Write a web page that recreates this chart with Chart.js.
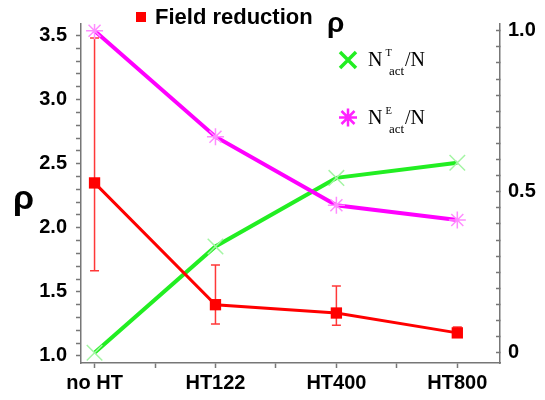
<!DOCTYPE html>
<html lang="en">
<head>
  <meta charset="UTF-8" />
  <title>Field reduction ρ</title>
  <script src="https://cdn.jsdelivr.net/npm/chart.js"></script>
  <style>
    body { margin: 0; background: #fff; }
    #wrap { position: relative; width: 545px; height: 400px; }
  </style>
</head>
<body>
<div id="wrap"><canvas id="c" width="545" height="400"></canvas></div>
<script>
  // data
  const categories = ['no HT', 'HT122', 'HT400', 'HT800'];
  const fieldReduction = [2.35, 1.40, 1.335, 1.18];
  const errLow = [1.665, 1.25, 1.24, 1.15];
  const errHigh = [3.48, 1.71, 1.545, 1.225];
  const nTact = [0.0, 0.33, 0.543, 0.59];
  const nEact = [1.0, 0.671, 0.458, 0.412];
  const leftLabels = [1.0, 1.5, 2.0, 2.5, 3.0, 3.5];
  const rightLabels = [0, 0.5, 1.0];

  const AXIS = '#777';
  const tickFont = { family: 'Liberation Sans', size: 20, weight: 'bold' };

  function points(vals) {
    return vals.map((v, i) => ({ x: i, y: v }));
  }
  function stepTicks(from, to, step) {
    const out = [];
    for (let v = from; v <= to + 1e-9; v += step) out.push({ value: Math.round(v * 1000) / 1000 });
    return out;
  }
  function near(list, v) {
    return list.some(l => Math.abs(l - v) < 1e-6);
  }

  const errorBars = {
    id: 'errorBars',
    beforeDatasetsDraw(chart) {
      const { ctx, scales: { x, y } } = chart;
      ctx.save();
      ctx.strokeStyle = '#ff3838';
      ctx.lineWidth = 1.5;
      errLow.forEach((lo, i) => {
        const px = x.getPixelForValue(i);
        const top = y.getPixelForValue(errHigh[i]);
        const bot = y.getPixelForValue(lo);
        ctx.beginPath();
        ctx.moveTo(px, top); ctx.lineTo(px, bot);
        ctx.moveTo(px - 4.5, top); ctx.lineTo(px + 4.5, top);
        ctx.moveTo(px - 4.5, bot); ctx.lineTo(px + 4.5, bot);
        ctx.stroke();
      });
      ctx.restore();
    }
  };

  const annotations = {
    id: 'annotations',
    afterDraw(chart) {
      const ctx = chart.ctx;
      ctx.save();
      ctx.fillStyle = '#000';
      ctx.textBaseline = 'alphabetic';

      // axis title
      ctx.font = 'bold 34px "Liberation Sans"';
      ctx.fillText('ρ', 13, 209);

      // legend: field reduction
      ctx.fillStyle = '#ff0000';
      ctx.fillRect(136, 12, 10, 10);
      ctx.fillStyle = '#000';
      ctx.font = 'bold 22px "Liberation Sans"';
      ctx.fillText('Field reduction', 155, 23.5);
      ctx.font = 'bold 28px "Liberation Sans"';
      ctx.fillText('ρ', 327, 32);

      // legend: N^T_act / N
      ctx.strokeStyle = '#22ee22';
      ctx.lineWidth = 3.5;
      ctx.beginPath();
      ctx.moveTo(340, 52); ctx.lineTo(356, 68);
      ctx.moveTo(356, 52); ctx.lineTo(340, 68);
      ctx.stroke();
      drawRatio(ctx, 'T', 66);

      // legend: N^E_act / N
      ctx.strokeStyle = '#ff22ff';
      ctx.lineWidth = 2.5;
      ctx.beginPath();
      ctx.moveTo(348, 108.5); ctx.lineTo(348, 126.5);
      ctx.moveTo(339, 117.5); ctx.lineTo(357, 117.5);
      ctx.moveTo(341.5, 111); ctx.lineTo(354.5, 124);
      ctx.moveTo(354.5, 111); ctx.lineTo(341.5, 124);
      ctx.stroke();
      drawRatio(ctx, 'E', 124);

      ctx.restore();
    }
  };

  function drawRatio(ctx, sup, base) {
    ctx.fillStyle = '#000';
    ctx.font = '20px "Liberation Serif"';
    ctx.fillText('N', 368, base);
    ctx.fillText('/N', 405, base);
    ctx.font = '10.5px "Liberation Serif"';
    ctx.fillText(sup, 385.5, base - 10.5);
    ctx.font = '13px "Liberation Serif"';
    ctx.fillText('act', 389, base + 8.5);
  }

  new Chart(document.getElementById('c').getContext('2d'), {
    type: 'line',
    data: {
      datasets: [
        {
          label: 'Field reduction',
          data: points(fieldReduction),
          yAxisID: 'y',
          order: 1,
          borderColor: '#ff0000',
          backgroundColor: '#ff0000',
          borderWidth: 3,
          pointStyle: 'rect',
          pointRadius: 8,
          pointBorderWidth: 0
        },
        {
          label: 'N^E_act/N',
          data: points(nEact),
          yAxisID: 'y1',
          order: 2,
          borderColor: '#ff00ff',
          borderWidth: 4,
          pointStyle: 'star',
          pointRadius: 8.5,
          pointBorderColor: '#ff8cff',
          pointBackgroundColor: 'rgba(0,0,0,0)',
          pointBorderWidth: 1.5
        },
        {
          label: 'N^T_act/N',
          data: points(nTact),
          yAxisID: 'y1',
          order: 3,
          borderColor: '#22ee22',
          borderWidth: 4,
          pointStyle: 'crossRot',
          pointRadius: 11,
          pointBorderColor: '#a4f5a4',
          pointBackgroundColor: 'rgba(0,0,0,0)',
          pointBorderWidth: 1.5
        }
      ]
    },
    options: {
      responsive: false,
      animation: false,
      devicePixelRatio: 1,
      layout: { padding: { top: 9, left: 0, right: 0, bottom: 0 } },
      plugins: { legend: { display: false }, tooltip: { enabled: false } },
      elements: { line: { tension: 0 } },
      scales: {
        x: {
          type: 'linear',
          position: 'bottom',
          min: -0.112,
          max: 3.353,
          afterBuildTicks: s => { s.ticks = stepTicks(0, 3, 0.5); },
          afterFit: s => { s.height = 37; },
          grid: { drawOnChartArea: false, tickLength: 5, tickColor: AXIS, tickWidth: 1.5 },
          border: { color: AXIS, width: 1.5 },
          ticks: {
            autoSkip: false, maxRotation: 0, color: '#000', font: tickFont, padding: 3,
            callback: v => Number.isInteger(v) ? categories[v] : ''
          }
        },
        y: {
          position: 'left',
          min: 0.945,
          max: 3.59,
          afterBuildTicks: s => { s.ticks = stepTicks(1.0, 3.5, 0.1); },
          afterFit: s => { s.width = 81; },
          grid: { drawOnChartArea: false, tickLength: 5, tickColor: AXIS, tickWidth: 1.5 },
          border: { color: AXIS, width: 1.5 },
          ticks: {
            autoSkip: false, color: '#000', font: tickFont, padding: 9,
            callback: v => near(leftLabels, v) ? v.toFixed(1) : ''
          }
        },
        y1: {
          position: 'right',
          min: -0.032,
          max: 1.021,
          afterBuildTicks: s => { s.ticks = stepTicks(0, 1.0, 0.05); },
          afterFit: s => { s.width = 45; },
          grid: { drawOnChartArea: false, tickLength: -4, tickColor: AXIS, tickWidth: 1.5 },
          border: { color: AXIS, width: 1.5 },
          ticks: {
            autoSkip: false, color: '#000', font: tickFont, padding: 12,
            callback: v => near(rightLabels, v) ? (v === 0 ? '0' : v.toFixed(1)) : ''
          }
        }
      }
    },
    plugins: [errorBars, annotations]
  });
</script>
</body>
</html>
